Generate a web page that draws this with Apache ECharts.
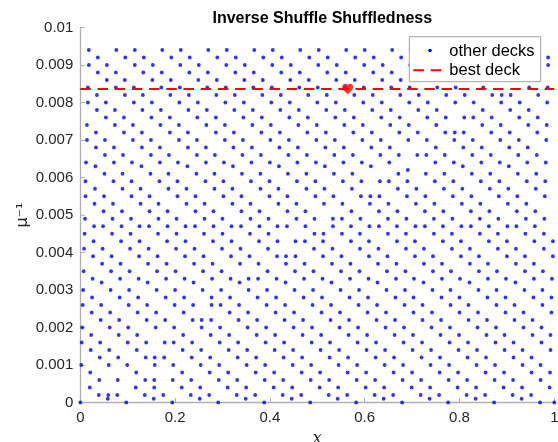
<!DOCTYPE html>
<html><head><meta charset="utf-8">
<script src="https://cdn.jsdelivr.net/npm/echarts@6/dist/echarts.min.js"></script>
<style>html,body{margin:0;padding:0;background:#fff}#c{width:558px;height:442px}</style>
</head><body><div id="c"></div>
<script>
// y level of each row of "other decks" points
const rowY = [0.0094,0.0092,0.0090,0.0088,0.0086,0.0084,0.0082,0.0080,0.0078,0.0076,0.0074,0.0072,0.0070,0.0068,0.0066,0.0064,0.0063,0.0062,0.0061,0.0059,0.0057,0.0055,0.0053,0.0051,0.0049,0.0047,0.0045,0.0043,0.0041,0.0039,0.0037,0.0035,0.0033,0.0032,0.0030,0.0028,0.0026,0.0024,0.0022,0.0020,0.0018,0.0016,0.0014,0.0012,0.0010,0.0008,0.0006,0.0004,0.0002,0.0001,0];
// x values of the points in each row (same order as rowY)
const rowX = [
[.018,.076,.115,.173,.212,.270,.309,.367,.406,.464,.503,.561,.600,.658,.697,.755,.794,.852,.891,.949],
[.037,.095,.134,.192,.231,.289,.328,.386,.425,.483,.522,.580,.619,.677,.716,.774,.813,.871,.910,.968,.987],
[.018,.056,.115,.153,.211,.250,.308,.347,.405,.444,.502,.541,.599,.638,.696,.735,.793,.832,.890,.929,.987],
[.037,.075,.133,.172,.230,.269,.327,.366,.424,.463,.521,.560,.618,.657,.715,.754,.812,.851,.909,.948],
[.056,.094,.152,.191,.249,.288,.346,.385,.443,.482,.540,.579,.637,.676,.734,.773,.831,.870,.928,.967],
[.016,.075,.113,.171,.210,.268,.307,.365,.404,.462,.501,.559,.598,.656,.695,.753,.792,.850,.947,.986],
[.035,.094,.132,.190,.229,.287,.326,.384,.423,.481,.520,.578,.617,.675,.714,.772,.811,.869,.889,.908,.966],
[.016,.054,.113,.151,.209,.248,.306,.345,.403,.442,.500,.539,.597,.636,.694,.733,.791,.830,.888,.927,.985],
[.035,.073,.131,.170,.228,.267,.325,.364,.422,.461,.519,.558,.616,.655,.713,.752,.849,.907,.946],
[.054,.092,.150,.189,.247,.286,.344,.383,.441,.480,.538,.577,.635,.674,.732,.771,.810,.829,.868,.926,.965],
[.014,.073,.111,.169,.208,.266,.305,.363,.402,.460,.499,.557,.596,.654,.693,.751,.848,.887,.945,.984],
[.033,.092,.130,.189,.227,.286,.324,.382,.421,.479,.518,.576,.615,.673,.712,.770,.790,.809,.867,.906,.964],
[.014,.052,.111,.149,.208,.246,.305,.343,.401,.440,.498,.537,.595,.634,.692,.731,.789,.828,.886,.925,.983],
[.033,.071,.130,.168,.227,.265,.323,.362,.420,.459,.517,.556,.614,.653,.750,.808,.847,.905,.944],
[.052,.090,.149,.187,.246,.284,.342,.381,.439,.478,.536,.575,.633,.672,.711,.730,.769,.827,.866,.924,.963],
[.012,.071,.109,.168,.206,.265,.303,.361,.400,.458,.497,.555,.594,.652,.749,.788,.846,.885,.943,.982],
[.032,.129,.226,.322,.419,.516,.613,.807,.904],
[.691],
[.051,.089,.148,.186,.245,.283,.341,.380,.438,.477,.535,.574,.671,.729,.768,.826,.865,.923,.962],
[.011,.070,.108,.167,.205,.264,.302,.360,.399,.457,.496,.554,.593,.632,.651,.690,.748,.787,.845,.884,.942,.981],
[.031,.089,.127,.186,.224,.283,.321,.380,.418,.477,.515,.573,.670,.709,.767,.806,.864,.903,.961],
[.011,.050,.108,.146,.205,.243,.302,.340,.399,.437,.496,.534,.592,.612,.631,.689,.728,.786,.825,.883,.922,.980],
[.030,.069,.127,.165,.224,.262,.321,.359,.418,.456,.514,.553,.611,.650,.708,.747,.805,.844,.902,.941],
[.049,.088,.146,.184,.243,.281,.340,.378,.437,.475,.572,.630,.669,.727,.766,.824,.863,.921,.960],
[.010,.068,.107,.165,.203,.262,.300,.359,.397,.456,.494,.533,.552,.591,.649,.688,.746,.785,.843,.882,.940,.979],
[.029,.048,.087,.125,.145,.184,.222,.242,.281,.319,.339,.378,.416,.436,.475,.533,.571,.610,.630,.668,.707,.727,.765,.804,.824,.862,.901,.920,.959],
[.009,.067,.106,.164,.203,.261,.300,.358,.397,.494,.513,.552,.590,.649,.687,.746,.784,.843,.881,.939,.978],
[.028,.086,.125,.183,.222,.280,.319,.377,.416,.454,.474,.512,.571,.609,.668,.706,.765,.803,.862,.900,.958,.997],
[.008,.047,.105,.144,.202,.241,.299,.338,.396,.493,.532,.590,.629,.687,.725,.784,.822,.881,.919,.978],
[.027,.066,.124,.163,.221,.260,.318,.357,.415,.434,.454,.512,.551,.609,.648,.706,.744,.803,.841,.900,.938,.997],
[.046,.085,.143,.182,.240,.279,.337,.376,.434,.473,.531,.570,.628,.667,.725,.763,.822,.860,.919,.957],
[.007,.065,.104,.162,.201,.259,.298,.395,.453,.492,.550,.589,.647,.686,.744,.782,.841,.879,.938,.976],
[.026,.084,.123,.181,.220,.278,.317,.355,.375,.414,.472,.511,.569,.608,.666,.704,.763,.801,.860,.898,.957,.995],
[.045,.142,.239,.336,.433,.530,.627,.724,.821,.918],
[.006,.064,.103,.161,.200,.258,.297,.355,.394,.452,.491,.549,.588,.646,.685,.743,.781,.840,.878,.937,.975],
[.025,.083,.122,.180,.219,.277,.316,.374,.413,.471,.510,.568,.607,.665,.703,.762,.800,.859,.897,.956,.994],
[.005,.044,.102,.141,.199,.238,.277,.296,.335,.393,.432,.490,.529,.587,.626,.684,.722,.781,.819,.878,.916,.975],
[.024,.063,.121,.160,.218,.315,.354,.412,.451,.509,.548,.606,.645,.703,.742,.800,.839,.897,.935,.994],
[.043,.082,.140,.179,.237,.256,.276,.334,.373,.431,.470,.528,.567,.625,.664,.722,.761,.819,.858,.916,.954],
[.004,.062,.101,.159,.198,.256,.295,.353,.392,.450,.489,.547,.586,.644,.683,.741,.780,.838,.877,.935,.973],
[.023,.081,.120,.217,.275,.314,.372,.411,.469,.508,.566,.605,.663,.702,.760,.799,.857,.895,.954,.992],
[.003,.042,.100,.139,.178,.197,.236,.294,.333,.391,.430,.488,.527,.585,.624,.682,.721,.779,.818,.876,.914,.973],
[.022,.061,.119,.216,.255,.313,.352,.410,.449,.507,.546,.604,.643,.701,.740,.798,.837,.895,.933,.992],
[.041,.080,.138,.157,.177,.235,.274,.332,.371,.429,.468,.526,.565,.623,.662,.720,.759,.817,.856,.914,.952],
[.002,.060,.099,.157,.196,.254,.293,.351,.390,.448,.487,.545,.584,.642,.681,.739,.778,.836,.875,.933,.971],
[.021,.118,.215,.273,.312,.370,.409,.467,.506,.564,.603,.661,.700,.758,.797,.855,.894,.952,.991],
[.040,.079,.137,.156,.195,.234,.292,.331,.389,.428,.486,.525,.583,.622,.680,.719,.777,.816,.874,.913,.971],
[.020,.117,.156,.214,.253,.311,.350,.408,.447,.505,.544,.602,.641,.699,.738,.796,.835,.893,.932,.990],
[.039,.059,.078,.136,.175,.233,.272,.330,.369,.427,.466,.524,.563,.621,.660,.718,.757,.815,.854,.912,.951],
[.058,.155,.252,.349,.446,.543,.640,.737,.834,.931],
[0,.097,.194,.291,.388,.485,.582,.679,.776,.873,.970,1]
];
// best deck
const bestX = [0.5642];
const bestY = [0.00836];
const lineX = [0, 1];
// axes
const xTicks = [0, 0.2, 0.4, 0.6, 0.8, 1];
const yTicks = [0, 0.001, 0.002, 0.003, 0.004, 0.005, 0.006, 0.007, 0.008, 0.009, 0.01];
const xTickLabels = ['0', '0.2', '0.4', '0.6', '0.8', '1'];
const yTickLabels = ['0', '0.001', '0.002', '0.003', '0.004', '0.005', '0.006', '0.007', '0.008', '0.009', '0.01'];

const otherDecks = [];
rowY.forEach((y, i) => rowX[i].forEach(x => otherDecks.push([x, y])));

function labelFor(ticks, labels) {
  return v => { for (let i = 0; i < ticks.length; i++) if (Math.abs(ticks[i] - v) < 1e-9) return labels[i]; return ''; };
}

const FONT = '"Liberation Sans", Arial, Helvetica, sans-serif';
const AX = '#b0b0b0';
const heart = 'path://M12 21.35l-1.45-1.32C5.4 15.36 2 12.28 2 8.5 2 5.42 4.42 3 7.5 3c1.74 0 3.41.81 4.5 2.09C13.09 3.81 14.76 3 16.5 3 19.58 3 22 5.42 22 8.5c0 3.78-3.4 6.86-8.55 11.54L12 21.35z';

const chart = echarts.init(document.getElementById('c'), null, {renderer: 'canvas'});
chart.setOption({
  animation: false,
  backgroundColor: '#fff',
  title: {
    text: 'Inverse Shuffle Shuffledness',
    left: 317.3, top: 6, textAlign: 'center',
    textStyle: {fontFamily: FONT, fontSize: 16, fontWeight: 'bold', color: '#000'}
  },
  grid: {left: 80.3, right: 3.7, top: 27.5, bottom: 39.5, containLabel: false, outerBoundsMode: 'none'},
  xAxis: {
    type: 'value', min: xTicks[0], max: xTicks[xTicks.length - 1], interval: 0.2,
    axisLine: {show: true, onZero: false, lineStyle: {color: AX, width: 1.3}},
    axisTick: {show: true, inside: true, length: 4.5, lineStyle: {color: AX, width: 1}},
    axisLabel: {color: '#262626', fontSize: 15, fontFamily: FONT, margin: 8, showMaxLabel: true, showMinLabel: true, formatter: labelFor(xTicks, xTickLabels)},
    splitLine: {show: false},
    name: 'x', nameLocation: 'middle', nameGap: 28, nameMoveOverlap: false,
    nameTextStyle: {fontStyle: 'italic', fontFamily: '"DejaVu Serif", "Liberation Serif", serif', fontSize: 16, color: '#262626'}
  },
  yAxis: {
    type: 'value', min: yTicks[0], max: yTicks[yTicks.length - 1], interval: 0.001,
    axisLine: {show: true, onZero: false, lineStyle: {color: AX, width: 1.3}},
    axisTick: {show: true, inside: true, length: 4.5, lineStyle: {color: AX, width: 1}},
    axisLabel: {color: '#262626', fontSize: 15, fontFamily: FONT, margin: 7, showMaxLabel: true, showMinLabel: true, formatter: labelFor(yTicks, yTickLabels)},
    splitLine: {show: false},
    name: 'μ⁻¹', nameLocation: 'middle', nameRotate: 90, nameGap: 49, nameMoveOverlap: false,
    nameTextStyle: {fontFamily: '"DejaVu Sans", sans-serif', fontSize: 16, color: '#262626'}
  },
  series: [
    {name: 'other decks', type: 'scatter', data: otherDecks, symbol: 'circle', symbolSize: 3.8,
     itemStyle: {color: '#0000ff'}, clip: false, z: 2, silent: true},
    {name: 'best deck', type: 'line', data: lineX.map(x => [x, bestY[0]]), symbol: 'none',
     lineStyle: {color: '#ff0000', width: 2, type: [10.5, 6.7]}, z: 3, silent: true},
    {name: 'best deck marker', type: 'scatter', data: bestX.map((x, i) => [x, bestY[i]]), symbol: heart,
     symbolSize: [11, 10.5], itemStyle: {color: '#ff0000'}, z: 4, silent: true}
  ],
  graphic: [
    {type: 'group', z: 100, children: [
      {type: 'rect', shape: {x: 409.3, y: 36.7, width: 131.4, height: 45}, style: {fill: '#fff', stroke: '#a6a6a6', lineWidth: 1}, z: 100},
      {type: 'circle', shape: {cx: 430, cy: 50.5, r: 1.8}, style: {fill: '#0000ff'}, z: 101},
      {type: 'line', shape: {x1: 413.3, y1: 70.3, x2: 442, y2: 70.3}, style: {stroke: '#ff0000', lineWidth: 2, lineDash: [10.7, 6.7]}, z: 101},
      {type: 'text', x: 449.3, y: 51, style: {text: 'other decks', fill: '#000', font: '16.5px ' + FONT, verticalAlign: 'middle', textVerticalAlign: 'middle'}, z: 101},
      {type: 'text', x: 449.3, y: 70.5, style: {text: 'best deck', fill: '#000', font: '16.5px ' + FONT, verticalAlign: 'middle', textVerticalAlign: 'middle'}, z: 101}
    ]}
  ]
});
</script>
</body></html>
